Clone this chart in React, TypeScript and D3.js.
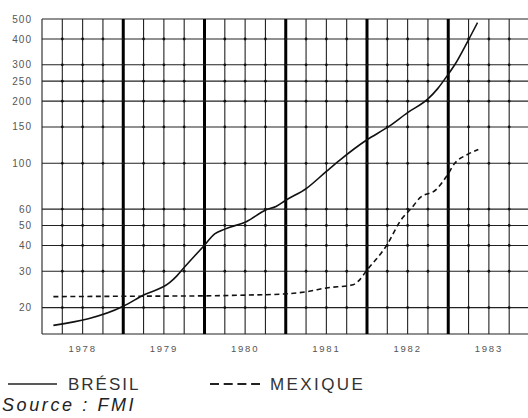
import React from "react";
import * as d3 from "d3";

// Inflation index (log scale), dated in fractional years
const bresilDates = [1978.14, 1979.0, 1979.25, 1979.57, 1979.66, 1979.76, 1979.98, 1980.13, 1980.25, 1980.52, 1980.76, 1980.88, 1981.0, 1981.26, 1981.5, 1981.67, 1982.0, 1982.26, 1982.5, 1982.75, 1982.87, 1983.0, 1983.08, 1983.24, 1983.36];
const bresilValues = [16.4, 20.3, 23.0, 26.4, 28.5, 31.6, 39.3, 45.6, 48.0, 52.3, 59.6, 61.8, 66.2, 75.9, 91.4, 104, 130, 150, 176, 205, 230, 270, 300, 390, 480];

const mexiqueDates = [1978.14, 1979.0, 1980.0, 1980.52, 1981.0, 1981.26, 1981.5, 1981.83, 1981.89, 1982.0, 1982.24, 1982.42, 1982.55, 1982.65, 1982.85, 1982.98, 1983.08, 1983.23, 1983.37];
const mexiqueValues = [22.6, 22.7, 22.8, 23.0, 23.3, 23.9, 24.9, 25.8, 26.8, 30.4, 39.9, 53.3, 60.8, 68, 74.5, 86.5, 100, 110, 116.6];

const yearLabels = ["1978", "1979", "1980", "1981", "1982", "1983"];
const yTicks = [500, 400, 300, 250, 200, 150, 100, 60, 50, 40, 30, 20];

const W = 528;
const H = 418;
const LEFT = 42;
const RIGHT = 529.5;
const TOP = 19;
const BOTTOM = 334;

export default function App() {
  const x = d3.scaleLinear().domain([1978, 1984]).range([LEFT, RIGHT]);
  const y = d3.scaleLog().domain([14.9, 500]).range([BOTTOM, TOP]);

  const quarters = d3.range(0, 24).map((i) => 1978 + i * 0.25);
  const hLines = [...yTicks];

  const line = d3
    .line<[number, number]>()
    .x((d) => x(d[0]))
    .y((d) => y(d[1]))
    .curve(d3.curveMonotoneX);

  const bresil = bresilDates.map((t, i) => [t, bresilValues[i]] as [number, number]);
  const mexique = mexiqueDates.map((t, i) => [t, mexiqueValues[i]] as [number, number]);

  const font = "'Liberation Sans', Arial, Helvetica, sans-serif";

  return (
    <svg
      width={W}
      height={H}
      style={{ position: "absolute", left: 0, top: 0, display: "block", background: "#fff" }}
    >
      {/* horizontal grid */}
      {hLines.map((v) => (
        <line key={"h" + v} x1={LEFT} x2={W} y1={y(v)} y2={y(v)} stroke="#222" strokeWidth={1.1} />
      ))}
      <line x1={LEFT} x2={W} y1={BOTTOM} y2={BOTTOM} stroke="#222" strokeWidth={1.2} />
      {/* vertical grid: quarters thin, year boundaries heavy */}
      {quarters.map((q) => {
        const isYear = Math.abs(q - Math.round(q)) < 1e-6 && q > 1978;
        return (
          <line
            key={"v" + q}
            x1={x(q)}
            x2={x(q)}
            y1={TOP}
            y2={BOTTOM}
            stroke={isYear ? "#000" : "#222"}
            strokeWidth={isYear ? 3 : 1.1}
          />
        );
      })}
      {/* intersection dots */}
      {quarters.slice(1).map((q) =>
        hLines.slice(1).map((v) => (
          <circle key={"d" + q + "_" + v} cx={x(q)} cy={y(v)} r={1.4} fill="#111" />
        ))
      )}

      {/* series */}
      <path d={line(bresil) || ""} fill="none" stroke="#111" strokeWidth={1.6} />
      <path d={line(mexique) || ""} fill="none" stroke="#111" strokeWidth={1.6} strokeDasharray="5,3.5" />

      {/* y labels */}
      {yTicks.map((v) => (
        <text
          key={"yl" + v}
          x={32}
          y={y(v) + 3.5}
          textAnchor="end"
          fontFamily={font}
          fontSize={10}
          letterSpacing={1}
          fill="#555"
        >
          {v}
        </text>
      ))}
      {/* year labels */}
      {yearLabels.map((lab) => (
        <text
          key={"x" + lab}
          x={x(+lab + 0.5)}
          y={352}
          textAnchor="middle"
          fontFamily={font}
          fontSize={9.5}
          letterSpacing={1.8}
          fill="#555"
        >
          {lab}
        </text>
      ))}

      {/* legend */}
      <line x1={8} x2={57} y1={384} y2={384} stroke="#222" strokeWidth={1.6} />
      <text x={68} y={390} fontFamily={font} fontSize={17} letterSpacing={2} fill="#333">
        BRÉSIL
      </text>
      <line x1={210} x2={260} y1={384} y2={384} stroke="#222" strokeWidth={2} strokeDasharray="9,4.7" />
      <text x={270} y={390} fontFamily={font} fontSize={17} letterSpacing={2.4} fill="#333">
        MEXIQUE
      </text>
      <text x={2} y={411} fontFamily={font} fontSize={18} fontStyle="italic" letterSpacing={2.6} fill="#222">
        Source : FMI
      </text>
    </svg>
  );
}
